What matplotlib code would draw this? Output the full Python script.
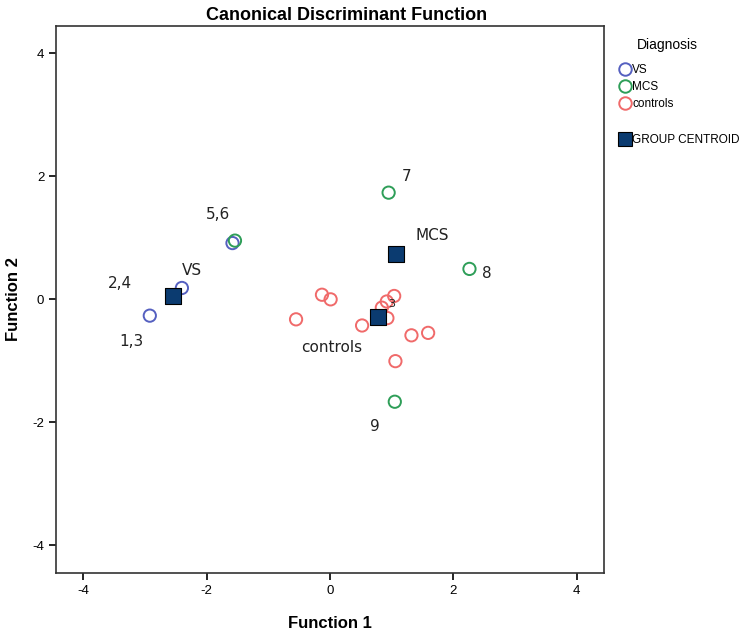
import matplotlib
matplotlib.use("Agg")
import matplotlib.pyplot as plt
from matplotlib.lines import Line2D

plt.rcParams["axes.unicode_minus"] = False

# canonical scores per case
vs_x = [-2.92, -2.40, -1.58]
vs_y = [-0.27, 0.18, 0.91]
mcs_x = [-1.54, 0.95, 2.26, 1.05]
mcs_y = [0.95, 1.73, 0.49, -1.67]
ctrl_x = [-0.13, 0.01, -0.55, 1.04, 0.92, 0.84, 0.93, 0.52, 1.32, 1.59, 1.06]
ctrl_y = [0.07, -0.005, -0.33, 0.05, -0.04, -0.14, -0.31, -0.43, -0.59, -0.55, -1.01]

# group centroids
cent_names = ["VS", "MCS", "controls"]
cent_x = [-2.55, 1.07, 0.78]
cent_y = [0.05, 0.74, -0.30]

# annotations (text, x, y, size)
notes = [
    ("2,4", -3.40, 0.26, 11),
    ("1,3", -3.21, -0.69, 11),
    ("VS", -2.24, 0.47, 11),
    ("5,6", -1.82, 1.37, 11),
    ("7", 1.24, 1.99, 11),
    ("MCS", 1.66, 1.04, 11),
    ("8", 2.54, 0.42, 11),
    ("3", 1.00, -0.08, 8),
    ("controls", 0.03, -0.79, 11),
    ("9", 0.73, -2.08, 11),
]

c_vs = "#5560c0"
c_mcs = "#2e9e58"
c_ctrl = "#f06a6a"
c_cent = "#0b3b70"

fig = plt.figure(figsize=(7.56, 6.34), dpi=100)
ax = fig.add_axes([56 / 756, 1 - 572.7 / 634, 548 / 756, 546.7 / 634])

ms = 78
ax.scatter(vs_x, vs_y, s=ms, facecolors="none", edgecolors=c_vs, linewidths=1.4, zorder=3)
ax.scatter(mcs_x, mcs_y, s=ms, facecolors="none", edgecolors=c_mcs, linewidths=1.4, zorder=3)
ax.scatter(ctrl_x, ctrl_y, s=ms, facecolors="none", edgecolors=c_ctrl, linewidths=1.4, zorder=3)
ax.scatter(cent_x, cent_y, s=120, marker="s", facecolors=c_cent, edgecolors="black",
           linewidths=0.8, zorder=4)

for txt, x, y, sz in notes:
    ax.text(x, y, txt, fontsize=sz, ha="center", va="center", color="#222222",
            family="DejaVu Sans", zorder=5)

ax.set_xlim(-4.44, 4.44)
ax.set_ylim(-4.45, 4.44)
ax.set_xticks([-4, -2, 0, 2, 4])
ax.set_yticks([-4, -2, 0, 2, 4])
ax.tick_params(direction="out", length=5, width=1.2, labelsize=9.5)
for lab in ax.get_xticklabels() + ax.get_yticklabels():
    lab.set_family("Liberation Sans")
for sp in ax.spines.values():
    sp.set_linewidth(1.2)
    sp.set_color("#333333")

ax.set_title("Canonical Discriminant Function", fontsize=13, fontweight="bold",
             family="Liberation Sans", pad=4, x=0.53)
ax.set_xlabel("Function 1", fontsize=12, fontweight="bold", family="Liberation Sans", labelpad=14)
ax.set_ylabel("Function 2", fontsize=12, fontweight="bold", family="Liberation Sans", labelpad=8)

def ring(col):
    return Line2D([], [], marker="o", linestyle="none", markerfacecolor="none",
                  markeredgecolor=col, markersize=9, markeredgewidth=1.4)

fig.text(667 / 756, 1 - 45 / 634, "Diagnosis", ha="center", va="center",
         fontsize=10, family="Liberation Sans")

leg = fig.legend([ring(c_vs), ring(c_mcs), ring(c_ctrl)], ["VS", "MCS", "controls"],
                 loc="upper left", bbox_to_anchor=(0.808, 1 - 56 / 634), frameon=False,
                 handlelength=1.0, handletextpad=0.1, labelspacing=0.4,
                 borderaxespad=0.3, prop={"family": "Liberation Sans", "size": 8.5})

sq = Line2D([], [], marker="s", linestyle="none", markerfacecolor=c_cent,
            markeredgecolor="black", markersize=10, markeredgewidth=0.8)
fig.legend([sq], ["GROUP CENTROID"], loc="upper left",
           bbox_to_anchor=(0.808, 1 - 126 / 634), frameon=False, handlelength=1.0,
           handletextpad=0.1, borderaxespad=0.3,
           prop={"family": "Liberation Sans", "size": 8.5})

fig.savefig("out.png", dpi=100)
